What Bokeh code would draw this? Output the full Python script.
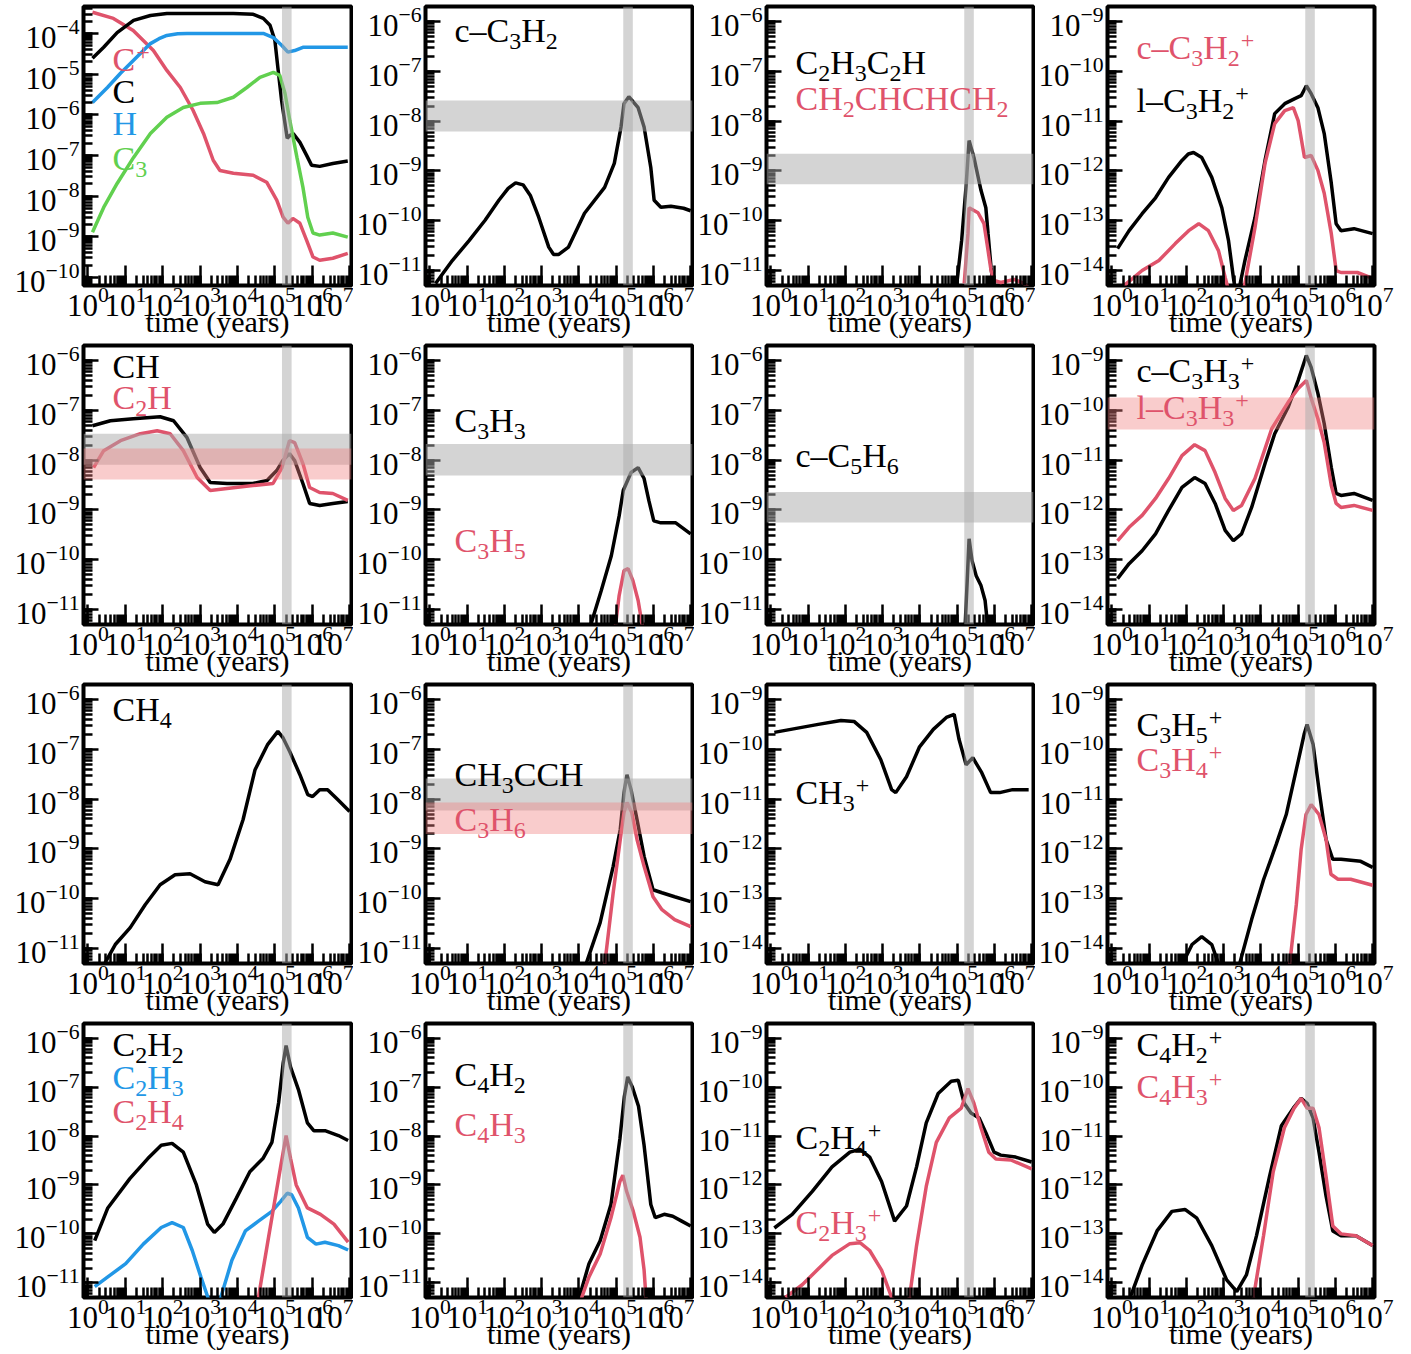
from bokeh.plotting import figure
from bokeh.layouts import column, row
from bokeh.models import BoxAnnotation, Label
from bokeh.embed import file_html
from bokeh.resources import INLINE

FONT = "Liberation Serif"
BLACK = "#000000"
RED = "#DF536B"
BLUE = "#2297E6"
GREEN = "#61D04F"
GRAY = "#A9A9A9"
PINK = "#F08080"

# ---------------- data (log10 time [yr], log10 abundance) ----------------
cplus_lt = [0.12, 0.68, 1.21, 1.75, 2.11, 2.47, 2.81, 3.09, 3.35, 3.53, 3.89, 4.42, 4.78, 5.05, 5.22, 5.35, 5.48, 5.67, 5.85, 6.02, 6.2, 6.55, 6.95]
cplus_lx = [-3.48, -3.63, -3.93, -4.42, -4.91, -5.33, -5.89, -6.46, -7.12, -7.37, -7.44, -7.49, -7.66, -8.10, -8.52, -8.67, -8.55, -8.67, -9.09, -9.50, -9.58, -9.53, -9.41]
c_lt = [0.12, 0.42, 0.78, 1.22, 1.67, 2.11, 3.0, 3.89, 4.42, 4.69, 4.87, 5.0, 5.08, 5.18, 5.27, 5.33, 5.40, 5.49, 5.67, 5.85, 5.98, 6.2, 6.55, 6.95]
c_lx = [-4.61, -4.34, -3.98, -3.68, -3.56, -3.51, -3.51, -3.51, -3.53, -3.63, -3.80, -4.17, -4.84, -5.65, -6.21, -6.58, -6.51, -6.46, -6.68, -7.0, -7.24, -7.27, -7.2, -7.14]
h_lt = [0.12, 0.52, 0.87, 1.22, 1.67, 1.9, 2.11, 2.4, 2.65, 3.89, 4.69, 4.96, 5.18, 5.35, 5.53, 5.75, 6.2, 6.95]
h_lx = [-5.70, -5.33, -4.98, -4.66, -4.25, -4.13, -4.05, -4.01, -4.0, -4.0, -4.0, -4.10, -4.29, -4.46, -4.42, -4.34, -4.34, -4.34]
c3_lt = [0.12, 0.42, 0.78, 1.22, 1.67, 2.11, 2.55, 3.0, 3.45, 3.89, 4.25, 4.6, 4.96, 5.13, 5.27, 5.40, 5.59, 5.75, 5.88, 6.02, 6.2, 6.55, 6.95]
c3_lx = [-8.89, -8.28, -7.69, -7.05, -6.46, -6.06, -5.82, -5.72, -5.70, -5.57, -5.33, -5.08, -4.96, -5.03, -5.47, -6.14, -7.05, -7.78, -8.52, -8.91, -8.96, -8.91, -9.01]

cc3h2_lt = [0.15, 0.6, 1.05, 1.48, 1.85, 2.1, 2.3, 2.5, 2.7, 2.92, 3.19, 3.32, 3.45, 3.72, 4.15, 4.69, 4.95, 5.13, 5.21, 5.34, 5.59, 5.75, 5.93, 6.02, 6.2, 6.47, 6.81, 7.0]
cc3h2_lx = [-11.26, -10.80, -10.40, -9.99, -9.59, -9.35, -9.24, -9.28, -9.50, -9.93, -10.53, -10.68, -10.68, -10.53, -9.85, -9.33, -8.85, -8.12, -7.65, -7.51, -7.73, -8.12, -8.93, -9.59, -9.73, -9.71, -9.75, -9.80]

c2h3c2h_lt = [4.97, 5.12, 5.24, 5.32, 5.45, 5.64, 5.77, 5.83, 5.91, 6.0]
c2h3c2h_lx = [-11.4, -10.4, -9.3, -8.39, -8.73, -9.39, -9.74, -10.26, -10.94, -11.5]
butad_lt = [5.19, 5.29, 5.32, 5.56, 5.72, 5.83, 5.91, 5.99, 6.17, 6.53, 6.79, 7.0]
butad_lx = [-11.26, -10.26, -9.74, -9.84, -10.06, -10.60, -11.0, -11.20, -11.24, -11.18, -11.26, -11.4]

lc3h2p_lt = [0.15, 0.46, 0.81, 1.17, 1.52, 1.88, 2.05, 2.19, 2.41, 2.68, 2.95, 3.13, 3.26, 3.35, 3.57, 3.84, 4.11, 4.37, 4.64, 4.91, 5.08, 5.22, 5.35, 5.53, 5.70, 5.89, 6.02, 6.15, 6.50, 7.0]
lc3h2p_lx = [-13.56, -13.20, -12.86, -12.54, -12.13, -11.79, -11.66, -11.63, -11.73, -12.13, -12.74, -13.40, -14.14, -14.6, -13.80, -12.94, -11.79, -10.85, -10.65, -10.55, -10.49, -10.29, -10.45, -10.73, -11.25, -12.25, -13.06, -13.20, -13.16, -13.26]
cc3h2p_lt = [0.33, 0.81, 1.26, 1.70, 2.06, 2.33, 2.59, 2.86, 3.04, 3.2, 3.45, 3.57, 3.84, 4.11, 4.37, 4.64, 4.87, 5.0, 5.17, 5.35, 5.53, 5.70, 5.89, 6.02, 6.15, 6.59, 7.0]
cc3h2p_lx = [-14.3, -14.0, -13.80, -13.46, -13.20, -13.06, -13.20, -13.60, -14.14, -14.6, -14.6, -14.26, -13.14, -11.85, -11.05, -10.79, -10.73, -10.99, -11.73, -11.69, -11.99, -12.45, -13.26, -14.0, -14.04, -14.04, -14.16]

ch_lt = [0.12, 0.6, 1.21, 1.93, 2.29, 2.65, 3.0, 3.27, 3.72, 4.41, 4.79, 5.05, 5.21, 5.39, 5.53, 5.75, 5.93, 6.2, 6.55, 6.95]
ch_lx = [-7.31, -7.21, -7.17, -7.13, -7.21, -7.55, -8.15, -8.45, -8.47, -8.47, -8.41, -8.21, -8.01, -7.87, -8.01, -8.47, -8.87, -8.91, -8.87, -8.83]
c2h_lt = [0.15, 0.42, 0.87, 1.4, 1.85, 2.2, 2.55, 2.92, 3.27, 3.72, 4.41, 4.95, 5.19, 5.39, 5.53, 5.75, 5.93, 6.2, 6.55, 6.95]
c2h_lx = [-8.15, -7.81, -7.61, -7.47, -7.41, -7.47, -7.81, -8.35, -8.61, -8.57, -8.51, -8.47, -8.15, -7.61, -7.65, -8.07, -8.55, -8.65, -8.67, -8.81]

c3h3_lt = [4.28, 4.6, 4.87, 5.08, 5.19, 5.4, 5.59, 5.75, 5.88, 6.01, 6.2, 6.6, 7.0]
c3h3_lx = [-11.4, -10.62, -9.92, -9.12, -8.61, -8.25, -8.15, -8.37, -8.82, -9.22, -9.26, -9.26, -9.48]
c3h5_lt = [4.97, 5.08, 5.21, 5.32, 5.45, 5.59, 5.72]
c3h5_lx = [-11.4, -10.72, -10.22, -10.18, -10.42, -10.82, -11.4]

cc5h6_lt = [5.21, 5.27, 5.32, 5.40, 5.51, 5.64, 5.75, 5.83]
cc5h6_lx = [-11.4, -10.42, -9.58, -10.02, -10.32, -10.52, -10.82, -11.4]

cc3h3p_lt = [0.15, 0.46, 0.81, 1.17, 1.52, 1.88, 2.22, 2.50, 2.77, 3.04, 3.26, 3.48, 3.75, 4.11, 4.37, 4.73, 5.0, 5.22, 5.35, 5.53, 5.70, 5.89, 6.02, 6.15, 6.50, 7.0]
cc3h3p_lx = [-13.38, -13.08, -12.82, -12.48, -12.01, -11.55, -11.35, -11.47, -11.87, -12.41, -12.62, -12.48, -11.95, -11.07, -10.47, -9.94, -9.40, -8.90, -9.14, -9.66, -10.27, -11.15, -11.67, -11.71, -11.67, -11.81]
lc3h3p_lt = [0.15, 0.46, 0.81, 1.17, 1.52, 1.88, 2.22, 2.50, 2.77, 3.04, 3.26, 3.48, 3.84, 4.29, 4.73, 5.0, 5.22, 5.35, 5.53, 5.70, 5.89, 6.02, 6.15, 6.50, 7.0]
lc3h3p_lx = [-12.62, -12.35, -12.11, -11.77, -11.37, -10.91, -10.69, -10.81, -11.25, -11.77, -12.01, -11.91, -11.37, -10.37, -9.84, -9.56, -9.40, -9.76, -10.17, -10.65, -11.51, -11.87, -11.95, -11.91, -12.01]

ch4_lt = [0.41, 0.73, 1.13, 1.53, 1.93, 2.33, 2.73, 3.13, 3.48, 3.8, 4.15, 4.47, 4.81, 5.08, 5.21, 5.4, 5.67, 5.88, 6.01, 6.2, 6.41, 6.68, 7.0]
ch4_lx = [-11.35, -10.92, -10.58, -10.12, -9.72, -9.52, -9.50, -9.66, -9.72, -9.21, -8.41, -7.41, -6.90, -6.64, -6.76, -7.05, -7.51, -7.91, -7.95, -7.81, -7.81, -8.01, -8.25]

ch3cch_lt = [4.15, 4.57, 4.92, 5.11, 5.21, 5.29, 5.40, 5.56, 5.75, 5.99, 6.23, 6.57, 7.0]
ch3cch_lx = [-11.4, -10.48, -9.35, -8.61, -7.87, -7.51, -7.81, -8.41, -9.15, -9.82, -9.88, -9.96, -10.06]
c3h6_lt = [4.68, 4.92, 5.11, 5.21, 5.29, 5.42, 5.56, 5.75, 5.99, 6.23, 6.57, 7.0]
c3h6_lx = [-11.4, -9.88, -8.81, -8.27, -8.07, -8.27, -8.81, -9.35, -9.96, -10.22, -10.42, -10.56]

ch3p_lt = [0.09, 0.68, 1.27, 1.88, 2.23, 2.57, 2.95, 3.24, 3.35, 3.64, 3.99, 4.36, 4.71, 4.92, 5.05, 5.24, 5.42, 5.66, 5.90, 6.14, 6.49, 6.92]
ch3p_lx = [-9.66, -9.58, -9.50, -9.42, -9.44, -9.66, -10.21, -10.81, -10.87, -10.55, -9.95, -9.60, -9.36, -9.30, -9.80, -10.31, -10.17, -10.47, -10.87, -10.87, -10.81, -10.81]

c3h5p_lt = [1.70, 2.15, 2.41, 2.68, 2.95, 3.2, 3.43, 3.75, 4.07, 4.41, 4.68, 4.95, 5.16, 5.24, 5.4, 5.56, 5.75, 5.93, 6.15, 6.68, 7.0]
c3h5p_lx = [-14.6, -13.92, -13.76, -13.92, -14.5, -14.8, -14.3, -13.42, -12.62, -11.91, -11.31, -10.41, -9.70, -9.50, -9.90, -10.81, -11.81, -12.21, -12.21, -12.25, -12.37]
c3h4p_lt = [4.76, 4.95, 5.08, 5.21, 5.35, 5.56, 5.75, 5.88, 6.07, 6.41, 7.0]
c3h4p_lx = [-14.4, -13.12, -12.01, -11.31, -11.11, -11.31, -11.81, -12.51, -12.61, -12.61, -12.73]

c2h2_lt = [0.18, 0.53, 1.12, 1.60, 1.96, 2.25, 2.55, 2.90, 3.20, 3.38, 3.61, 3.97, 4.33, 4.68, 4.92, 5.10, 5.22, 5.30, 5.42, 5.63, 5.87, 6.04, 6.34, 6.70, 6.96]
c2h2_lx = [-10.14, -9.47, -8.87, -8.46, -8.19, -8.15, -8.33, -9.0, -9.80, -9.97, -9.80, -9.27, -8.73, -8.46, -8.13, -7.32, -6.52, -6.15, -6.59, -7.05, -7.73, -7.89, -7.89, -7.99, -8.09]
c2h3_lt = [0.18, 0.53, 1.01, 1.48, 1.96, 2.25, 2.55, 2.79, 3.02, 3.20, 3.38, 3.56, 3.85, 4.21, 4.56, 4.92, 5.15, 5.33, 5.45, 5.63, 5.87, 6.10, 6.34, 6.70, 6.96]
c2h3_lx = [-11.08, -10.88, -10.61, -10.21, -9.87, -9.77, -9.87, -10.34, -10.88, -11.28, -11.7, -11.28, -10.54, -9.94, -9.74, -9.54, -9.34, -9.17, -9.20, -9.47, -10.07, -10.21, -10.17, -10.24, -10.33]
c2h4_lt = [4.56, 4.80, 4.98, 5.16, 5.30, 5.42, 5.57, 5.87, 6.22, 6.58, 6.96]
c2h4_lx = [-11.3, -10.21, -9.40, -8.60, -7.99, -8.46, -9.0, -9.47, -9.60, -9.80, -10.17]

c4h2_lt = [3.97, 4.27, 4.57, 4.86, 5.10, 5.22, 5.31, 5.43, 5.60, 5.75, 5.93, 6.05, 6.29, 6.52, 6.76, 7.0]
c4h2_lx = [-11.4, -10.61, -10.14, -9.40, -8.06, -7.19, -6.79, -6.99, -7.39, -8.19, -9.40, -9.67, -9.60, -9.64, -9.74, -9.84]
c4h3_lt = [4.03, 4.27, 4.57, 4.86, 5.10, 5.18, 5.28, 5.46, 5.64, 5.75, 5.81]
c4h3_lx = [-11.4, -10.88, -10.41, -9.67, -8.93, -8.80, -9.13, -9.54, -10.07, -10.74, -11.4]

c2h4p_lt = [0.09, 0.57, 1.11, 1.64, 2.12, 2.39, 2.65, 2.97, 3.32, 3.64, 3.91, 4.17, 4.49, 4.84, 5.03, 5.19, 5.37, 5.59, 5.77, 5.99, 6.17, 6.57, 7.0]
c2h4p_lx = [-12.88, -12.60, -12.13, -11.63, -11.33, -11.27, -11.43, -11.93, -12.74, -12.43, -11.63, -10.73, -10.13, -9.88, -9.86, -10.33, -10.53, -10.63, -10.93, -11.33, -11.39, -11.43, -11.53]
c2h3p_lt = [0.39, 0.84, 1.24, 1.64, 2.12, 2.39, 2.65, 2.97, 3.24, 3.5, 3.72, 3.91, 4.17, 4.44, 4.79, 5.11, 5.29, 5.45, 5.64, 5.85, 6.04, 6.44, 7.0]
c2h3p_lx = [-14.3, -14.04, -13.74, -13.44, -13.20, -13.18, -13.34, -13.74, -14.3, -14.8, -14.3, -13.24, -12.03, -11.13, -10.63, -10.43, -10.03, -10.33, -10.83, -11.33, -11.47, -11.49, -11.67]

c4h2p_lt = [0.49, 0.81, 1.21, 1.61, 1.96, 2.28, 2.68, 3.08, 3.35, 3.61, 3.88, 4.23, 4.55, 4.87, 5.08, 5.24, 5.40, 5.56, 5.75, 5.93, 6.15, 6.55, 7.0]
c4h2p_lx = [-14.3, -13.64, -12.94, -12.54, -12.50, -12.68, -13.24, -13.94, -14.18, -13.84, -13.04, -11.83, -10.79, -10.43, -10.23, -10.33, -10.63, -11.33, -12.23, -12.94, -13.04, -13.04, -13.24]
c4h3p_lt = [3.80, 4.07, 4.33, 4.63, 4.89, 5.08, 5.24, 5.40, 5.56, 5.75, 5.93, 6.15, 6.55, 7.0]
c4h3p_lx = [-14.3, -13.04, -11.73, -10.83, -10.43, -10.23, -10.43, -10.43, -10.83, -11.83, -12.84, -13.0, -13.04, -13.24]

# observation bands (abundance) and shock-time band (years)
VBAND = [1.55e5, 2.8e5]
band_cc3h2 = [6.2e-9, 2.6e-8]
band_c2h3c2h = [5.4e-10, 2.2e-9]
band_ch = [8.1e-9, 3.4e-8]
band_c2h = [4.1e-9, 1.7e-8]
band_c3h3 = [4.9e-9, 2.1e-8]
band_cc5h6 = [5.6e-10, 2.3e-9]
band_lc3h3p = [4.1e-11, 1.8e-10]
band_ch3cch = [5.9e-9, 2.6e-8]
band_c3h6 = [2.0e-9, 8.5e-9]

X_LABEL = "time (years)"
X_RANGE = (10 ** -0.12, 10 ** 7.05)
YR_1 = (6.3e-11, 4.6e-4)
YR_A = (5e-12, 2e-6)
YR_B = (5e-15, 2e-9)

FRAME_W = 268
FRAME_H = 279
COL_LEFT = [83, 71, 71, 71]
COL_RIGHT = [2, 2, 2, 32]
ROW_TOP = [6, 4, 4, 4]
ROW_BOTTOM = [56, 56, 56, 50]

S = lambda v: [10.0 ** e for e in v]

# species labels: markup with _d subscripts and ^+ superscripts; (markup, colour, centre offset from frame top)
panels = [
    dict(yr=YR_1, curves=[(cplus_lt, cplus_lx, RED), (c_lt, c_lx, BLACK), (h_lt, h_lx, BLUE), (c3_lt, c3_lx, GREEN)],
         labels=[("C^+", RED, 53), ("C", BLACK, 85), ("H", BLUE, 117), ("C_3", GREEN, 152)], bands=[]),
    dict(yr=YR_A, curves=[(cc3h2_lt, cc3h2_lx, BLACK)],
         labels=[("c–C_3H_2", BLACK, 24)], bands=[(band_cc3h2, GRAY)]),
    dict(yr=YR_A, curves=[(c2h3c2h_lt, c2h3c2h_lx, BLACK), (butad_lt, butad_lx, RED)],
         labels=[("C_2H_3C_2H", BLACK, 56), ("CH_2CHCHCH_2", RED, 92)], bands=[(band_c2h3c2h, GRAY)]),
    dict(yr=YR_B, curves=[(lc3h2p_lt, lc3h2p_lx, BLACK), (cc3h2p_lt, cc3h2p_lx, RED)],
         labels=[("c–C_3H_2^+", RED, 41), ("l–C_3H_2^+", BLACK, 94)], bands=[]),
    dict(yr=YR_A, curves=[(ch_lt, ch_lx, BLACK), (c2h_lt, c2h_lx, RED)],
         labels=[("CH", BLACK, 21), ("C_2H", RED, 52)], bands=[(band_ch, GRAY), (band_c2h, PINK)]),
    dict(yr=YR_A, curves=[(c3h3_lt, c3h3_lx, BLACK), (c3h5_lt, c3h5_lx, RED)],
         labels=[("C_3H_3", BLACK, 75), ("C_3H_5", RED, 195)], bands=[(band_c3h3, GRAY)]),
    dict(yr=YR_A, curves=[(cc5h6_lt, cc5h6_lx, BLACK)],
         labels=[("c–C_5H_6", BLACK, 110)], bands=[(band_cc5h6, GRAY)]),
    dict(yr=YR_B, curves=[(cc3h3p_lt, cc3h3p_lx, BLACK), (lc3h3p_lt, lc3h3p_lx, RED)],
         labels=[("c–C_3H_3^+", BLACK, 25), ("l–C_3H_3^+", RED, 62)], bands=[(band_lc3h3p, PINK)]),
    dict(yr=YR_A, curves=[(ch4_lt, ch4_lx, BLACK)],
         labels=[("CH_4", BLACK, 25)], bands=[]),
    dict(yr=YR_A, curves=[(ch3cch_lt, ch3cch_lx, BLACK), (c3h6_lt, c3h6_lx, RED)],
         labels=[("CH_3CCH", BLACK, 90), ("C_3H_6", RED, 135)], bands=[(band_ch3cch, GRAY), (band_c3h6, PINK)]),
    dict(yr=YR_B, curves=[(ch3p_lt, ch3p_lx, BLACK)],
         labels=[("CH_3^+", BLACK, 108)], bands=[]),
    dict(yr=YR_B, curves=[(c3h5p_lt, c3h5p_lx, BLACK), (c3h4p_lt, c3h4p_lx, RED)],
         labels=[("C_3H_5^+", BLACK, 40), ("C_3H_4^+", RED, 75)], bands=[]),
    dict(yr=YR_A, curves=[(c2h2_lt, c2h2_lx, BLACK), (c2h3_lt, c2h3_lx, BLUE), (c2h4_lt, c2h4_lx, RED)],
         labels=[("C_2H_2", BLACK, 26), ("C_2H_3", BLUE, 59), ("C_2H_4", RED, 93)], bands=[]),
    dict(yr=YR_A, curves=[(c4h2_lt, c4h2_lx, BLACK), (c4h3_lt, c4h3_lx, RED)],
         labels=[("C_4H_2", BLACK, 56), ("C_4H_3", RED, 106)], bands=[]),
    dict(yr=YR_B, curves=[(c2h4p_lt, c2h4p_lx, BLACK), (c2h3p_lt, c2h3p_lx, RED)],
         labels=[("C_2H_4^+", BLACK, 119), ("C_2H_3^+", RED, 204)], bands=[]),
    dict(yr=YR_B, curves=[(c4h2p_lt, c4h2p_lx, BLACK), (c4h3p_lt, c4h3p_lx, RED)],
         labels=[("C_4H_2^+", BLACK, 26), ("C_4H_3^+", RED, 68)], bands=[]),
]

# approximate advance widths (em) of the serif font
GLYPH_W = {"C": 0.667, "H": 0.722, "c": 0.444, "l": 0.278, "–": 0.5, "+": 0.564}
MAIN_PX = 34
SMALL_PX = 24


def gw(ch, px):
    return GLYPH_W.get(ch, 0.5) * px


def add_text(p, text, x, y, color, size, align="left"):
    p.add_layout(Label(x=x, y=y, x_units="screen", y_units="screen", text=text,
                       text_color=color, text_font=FONT, text_font_size=f"{size}px",
                       text_baseline="middle", text_align=align))


def add_formula(p, markup, color, dy):
    """Place a chemical formula with sub/superscripts as separate text pieces."""
    mid = FRAME_H - dy  # vertical centre of the main text, screen y from frame bottom
    x = 29.0
    run, run_x = "", x
    i = 0
    while i < len(markup):
        ch = markup[i]
        if ch in "_^":
            if run:
                add_text(p, run, run_x, mid, color, MAIN_PX)
                run = ""
            s = markup[i + 1]
            if ch == "_":
                add_text(p, s, x, mid - 11, color, SMALL_PX)
            else:
                add_text(p, s, x + 1, mid + 7, color, SMALL_PX)
            x += gw(s, SMALL_PX)
            i += 2
            run_x = x
            continue
        if not run:
            run_x = x
        run += ch
        x += gw(ch, MAIN_PX)
        i += 1
    if run:
        add_text(p, run, run_x, mid, color, MAIN_PX)


def make_panel(i, spec):
    r, c = divmod(i, 4)
    w = COL_LEFT[c] + FRAME_W + COL_RIGHT[c]
    h = ROW_TOP[r] + FRAME_H + ROW_BOTTOM[r]
    p = figure(width=w, height=h, x_axis_type="log", y_axis_type="log",
               x_range=X_RANGE, y_range=spec["yr"],
               output_backend="svg", toolbar_location=None,
               min_border_left=COL_LEFT[c], min_border_right=COL_RIGHT[c],
               min_border_top=ROW_TOP[r], min_border_bottom=ROW_BOTTOM[r])
    p.grid.visible = False
    p.outline_line_color = "black"
    p.outline_line_width = 4
    p.outline_line_alpha = 1.0
    for ax in (p.xaxis[0], p.yaxis[0]):
        ax.ticker.num_minor_ticks = 10
        ax.axis_line_color = None
        ax.major_tick_out = 0
        ax.minor_tick_out = 0
        ax.major_tick_line_width = 2.5
        ax.minor_tick_line_width = 2.5
        ax.major_tick_line_color = "black"
        ax.minor_tick_line_color = "black"
        ax.major_label_text_font = FONT
        ax.major_label_text_font_size = "31px"
        ax.major_label_text_color = "black"
    p.xaxis.major_tick_in = 20
    p.xaxis.minor_tick_in = 10
    p.yaxis.major_tick_in = 15
    p.yaxis.minor_tick_in = 9
    p.xaxis.major_label_standoff = 1
    p.yaxis.major_label_standoff = 4
    p.xaxis.axis_label = X_LABEL
    p.xaxis.axis_label_text_font = FONT
    p.xaxis.axis_label_text_font_size = "30px"
    p.xaxis.axis_label_text_font_style = "normal"
    p.xaxis.axis_label_text_color = "black"
    p.xaxis.axis_label_standoff = -14

    for lt, lx, col in spec["curves"]:
        p.line(S(lt), S(lx), line_color=col, line_width=3.5)

    for band, col in spec["bands"]:
        p.add_layout(BoxAnnotation(bottom=band[0], top=band[1], fill_color=col,
                                   fill_alpha=0.5 if col == GRAY else 0.4, line_alpha=0))
    p.add_layout(BoxAnnotation(left=VBAND[0], right=VBAND[1], fill_color=GRAY,
                               fill_alpha=0.5, line_alpha=0))

    for markup, col, dy in spec["labels"]:
        add_formula(p, markup, col, dy)
    return p


figs = [make_panel(i, s) for i, s in enumerate(panels)]
rows = [row(*figs[k * 4:(k + 1) * 4], spacing=0) for k in range(4)]
layout = column(*rows, spacing=0)

open("out.html", "w").write(file_html(layout, INLINE))
